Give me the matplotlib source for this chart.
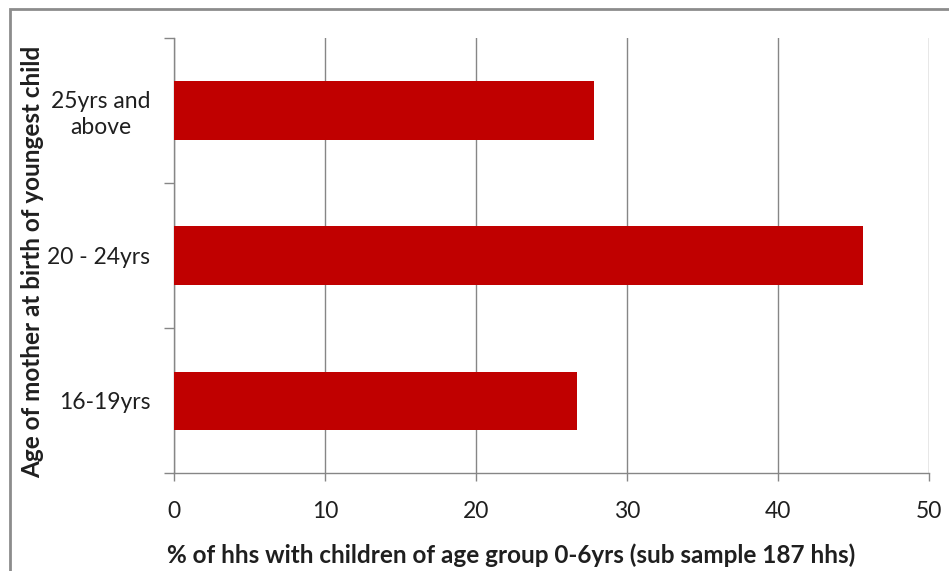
import matplotlib

matplotlib.use("Agg")
import matplotlib.pyplot as plt
import numpy as np
from matplotlib.patches import Rectangle

# Data
categories = ["16-19yrs", "20 - 24yrs", "25yrs and\nabove"]
pct_hhs = [26.7, 45.6, 27.8]
x_ticks = [0, 10, 20, 30, 40, 50]

bar_color = "#C00000"
grid_color = "#868686"
text_color = "#1f1f1f"

plt.rcParams["font.family"] = ["Lato", "DejaVu Sans"]

fig = plt.figure(figsize=(9.49, 5.71), dpi=100)
ax = fig.add_axes([174 / 949, 1 - 473 / 571, 755 / 949, 435 / 571])

# Outer chart border (cut off at right and bottom, as in the reference)
fig.patches.append(
    Rectangle(
        (10 / 949, -0.05),
        1.2,
        1 - 9 / 571 + 0.05,
        transform=fig.transFigure,
        fill=False,
        edgecolor="#8c8c8c",
        linewidth=2,
    )
)

y_pos = np.arange(len(categories))
ax.barh(y_pos, pct_hhs, height=0.4, color=bar_color, zorder=3)

ax.set_xlim(0, 50)
ax.set_ylim(-0.5, len(categories) - 0.5)
ax.set_xticks(x_ticks)
ax.set_xticklabels([str(t) for t in x_ticks])
ax.set_yticks(y_pos)
ax.set_yticklabels(categories, multialignment="center", linespacing=1.25)
ax.set_yticks(np.arange(-0.5, len(categories)), minor=True)

ax.tick_params(axis="y", which="major", length=0, pad=17, labelsize=16.5,
               labelcolor=text_color)
ax.tick_params(axis="y", which="minor", length=7, color=grid_color, width=1)
ax.tick_params(axis="x", length=6, color=grid_color, width=1, pad=14,
               labelsize=16.5, labelcolor=text_color)

ax.grid(axis="x", color=grid_color, linewidth=1, zorder=0)
for side in ["top", "right"]:
    ax.spines[side].set_visible(False)
for side in ["left", "bottom"]:
    ax.spines[side].set_color(grid_color)
    ax.spines[side].set_linewidth(1)

fig.text(
    511 / 949,
    1 - 555 / 571,
    "% of hhs with children of age group 0-6yrs (sub sample 187 hhs)",
    ha="center",
    va="center",
    fontsize=17.5,
    fontweight="bold",
    color=text_color,
)
fig.text(
    33 / 949,
    1 - 262 / 571,
    "Age of mother at birth of youngest child",
    ha="center",
    va="center",
    rotation=90,
    fontsize=17.5,
    fontweight="bold",
    color=text_color,
)

fig.savefig("out.png", dpi=100)
